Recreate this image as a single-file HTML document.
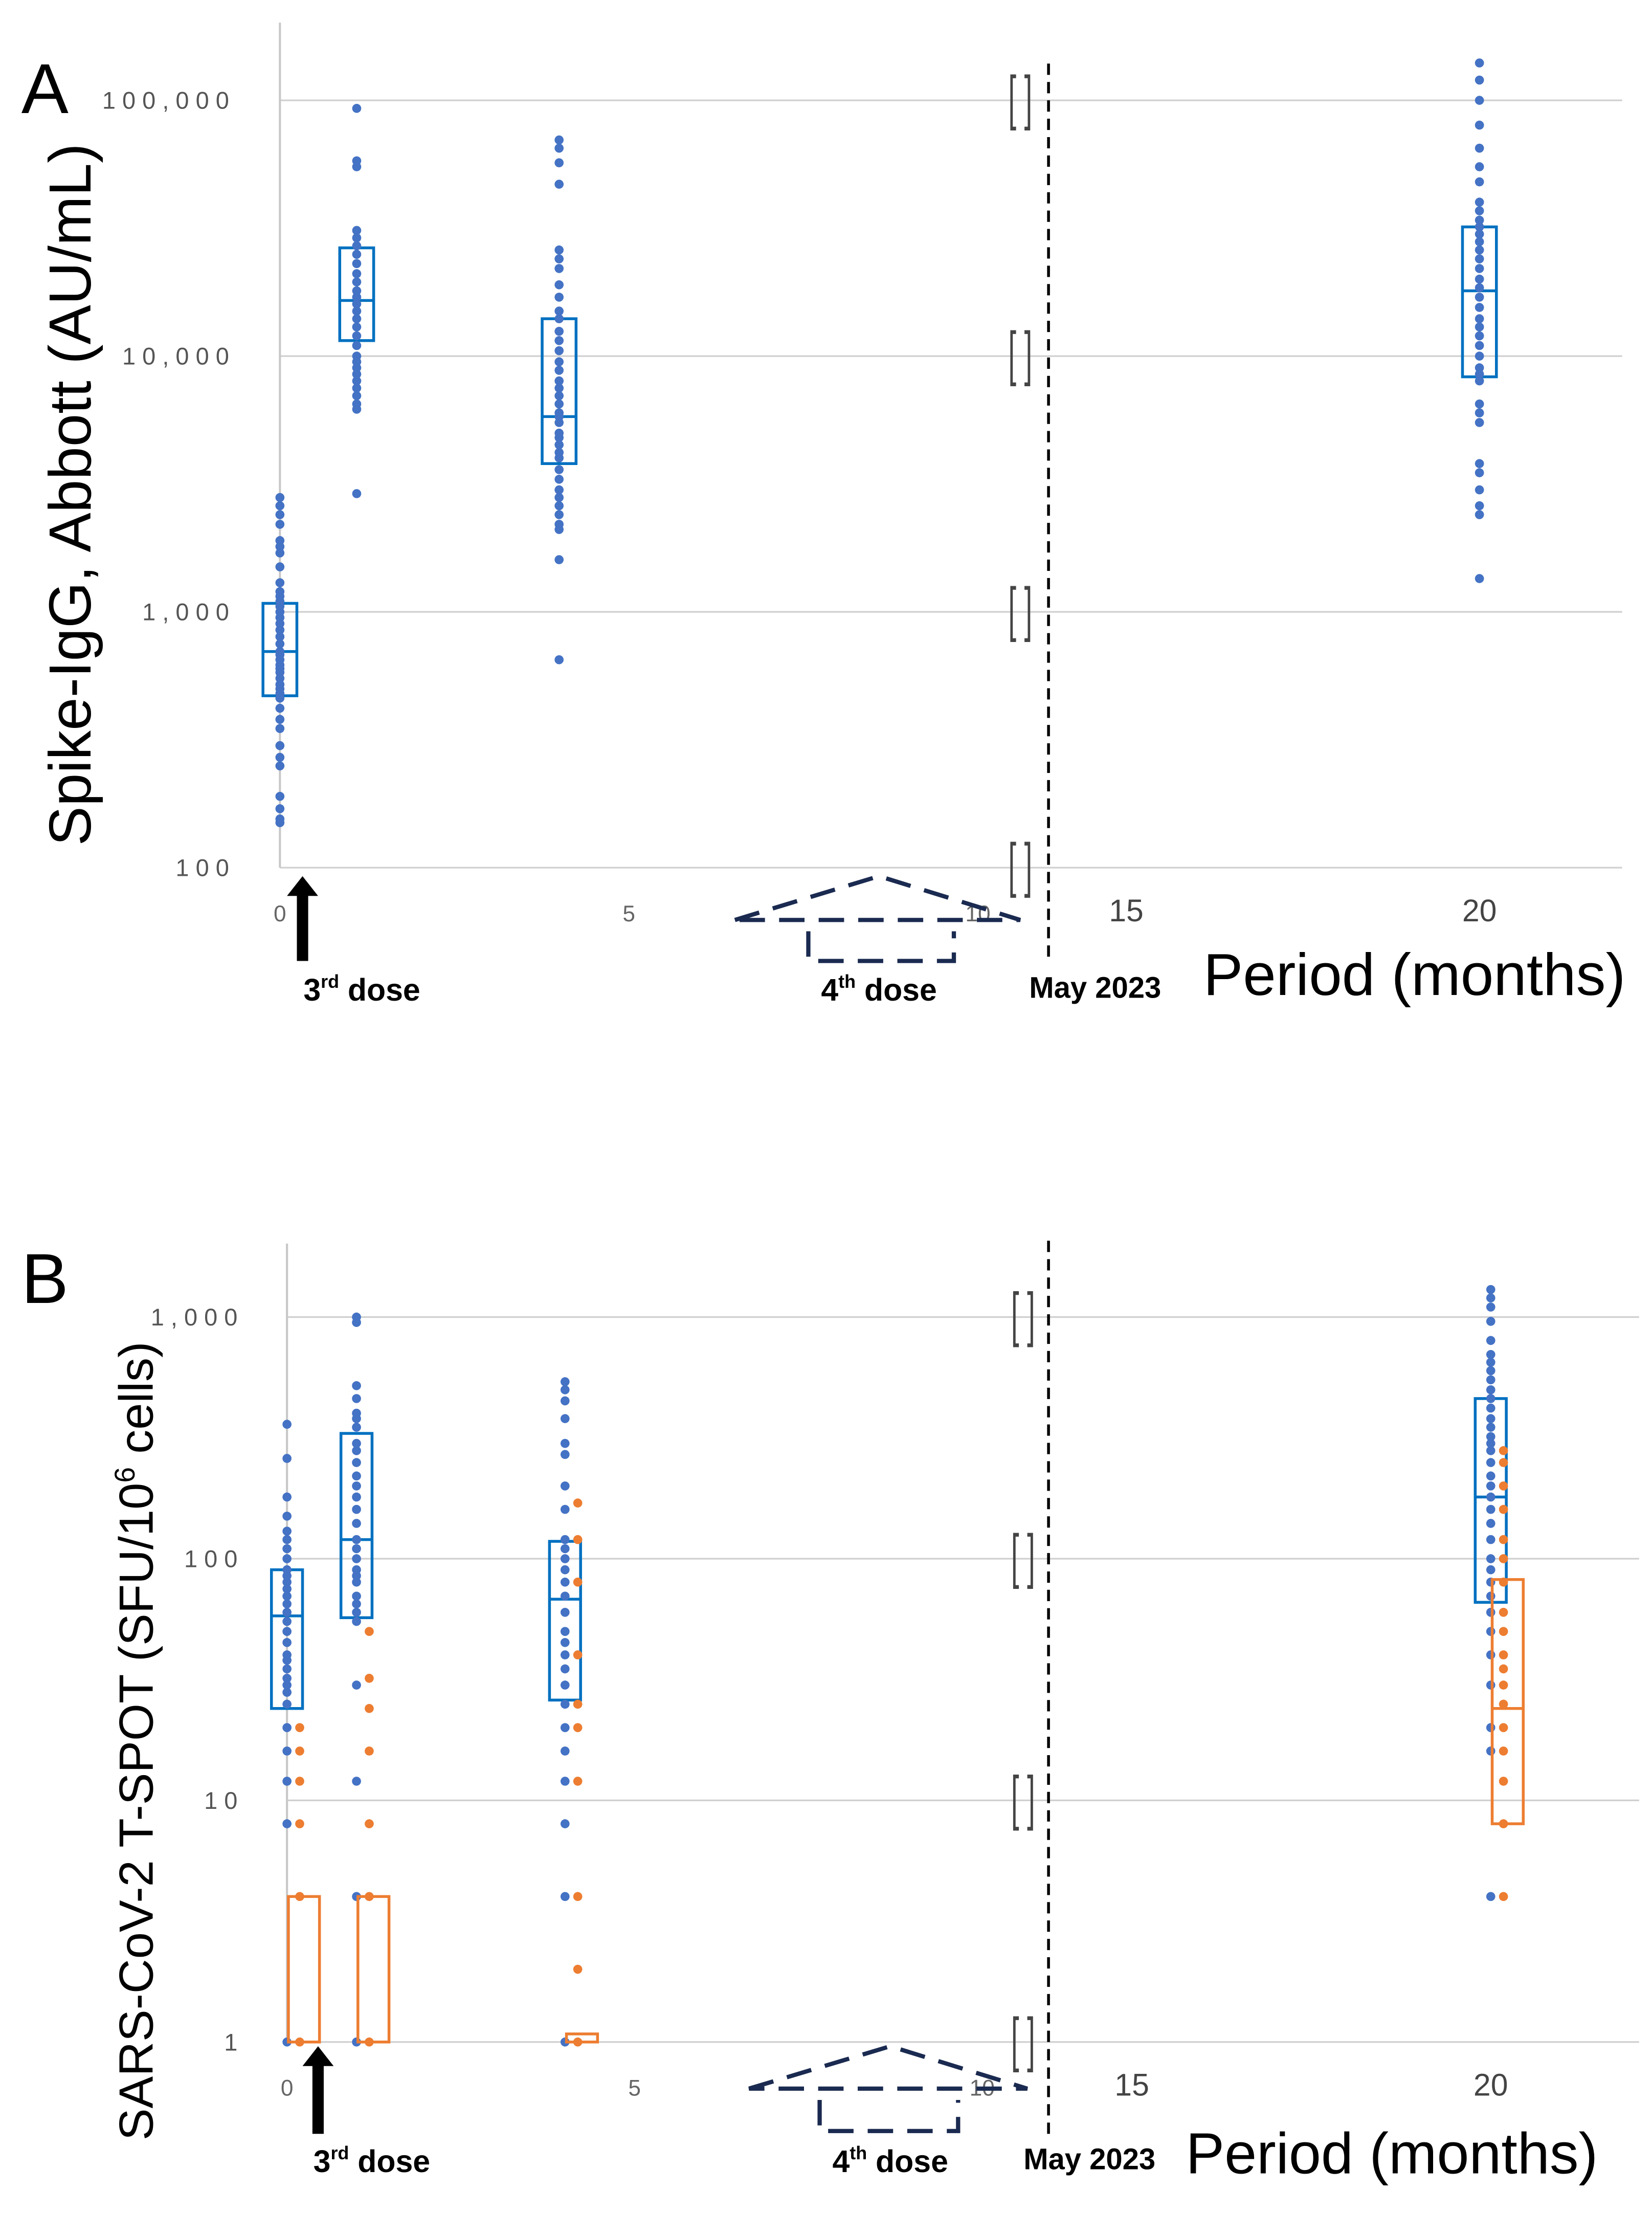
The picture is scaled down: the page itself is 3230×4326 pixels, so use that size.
<!DOCTYPE html>
<html><head><meta charset="utf-8"><style>
html,body{margin:0;padding:0;background:#fff}
svg{display:block}
text{font-family:"Liberation Sans",sans-serif}
</style></head><body>
<svg id="fig" width="3230" height="4326" viewBox="0 0 1169 1566" xmlns="http://www.w3.org/2000/svg">
<g id="gA"></g>
<g id="gB"></g>
</svg>
<script>
// Panel A data
const aGroupsMonths = [0, 1.1, 4, 20];
const aBoxLow = [470, 11500, 3800, 8300];
const aBoxMed = [700, 16500, 5800, 18000];
const aBoxHigh = [1080, 26500, 14000, 32000];
const aDots0 = [2800,2600,2400,2200,1900,1800,1700,1500,1300,1200,1150,1100,1050,1000,950,900,850,800,750,700,680,650,620,600,580,550,520,500,480,460,420,380,350,300,270,250,190,170,155,150];
const aDots1 = [93000,58000,55000,31000,29000,27000,25000,23000,21000,19500,18000,17000,16000,15000,14000,13000,12000,11000,10000,9500,9000,8500,8000,7500,7000,6500,6200,2900];
const aDots4 = [70000,65000,57000,47000,26000,24000,22000,19000,17000,15000,14000,12500,11500,10500,9500,8800,8000,7500,7000,6500,6000,5800,5500,5000,4800,4500,4200,4000,3600,3300,3000,2800,2600,2400,2200,2100,1600,650];
const aDots20 = [140000,120000,100000,80000,65000,55000,48000,40000,37000,34000,32000,30000,28000,26000,24000,22000,20000,18500,17000,15500,14000,13000,12000,11000,10000,9000,8500,8000,6500,6000,5500,3800,3500,3000,2600,2400,1350];
const aYTicks = [100, 1000, 10000, 100000];
const aYTickLabels = ["1 0 0","1 , 0 0 0","1 0 , 0 0 0","1 0 0 , 0 0 0"];
// Panel B data
const bGroupsMonths = [0, 1, 4, 20];
const bBlueLow = [24, 57, 26, 66];
const bBlueMed = [58, 120, 68, 180];
const bBlueHigh = [90, 330, 118, 460];
const bOrangeLow = [1, 1, 1, 8];
const bOrangeMed = [null, null, null, 24];
const bOrangeHigh = [4, 4, 1.08, 82];
const bBlue0 = [360,260,180,150,130,120,110,100,90,85,80,75,70,65,60,55,50,45,40,38,35,32,30,28,25,20,16,12,8,1];
const bBlue1 = [1000,950,520,460,400,380,350,300,280,250,220,200,180,160,140,120,110,100,90,85,80,70,65,60,55,30,12,4,1];
const bBlue4 = [540,500,450,380,300,270,200,160,120,110,100,90,80,70,60,50,45,40,35,30,25,20,16,12,8,4,1];
const bBlue20 = [1300,1200,1100,960,800,700,650,600,550,500,460,420,380,350,320,300,280,250,220,200,180,160,140,120,100,90,80,70,60,50,40,30,20,16,4];
const bOrange0 = [20,16,12,8,4,1];
const bOrange1 = [50,32,24,16,8,4,1];
const bOrange4 = [170,120,80,40,25,20,12,4,2,1];
const bOrange20 = [280,250,200,160,120,100,80,60,50,40,35,30,25,20,16,12,8,4];
const bYTicks = [1, 10, 100, 1000];
const bYTickLabels = ["1","1 0","1 0 0","1 , 0 0 0"];
const xTicks = [0, 5, 10, 15, 20];

const NS = "http://www.w3.org/2000/svg";
function mk(parent, tag, attrs, txt){
  const e = document.createElementNS(NS, tag);
  for (const k in attrs) e.setAttribute(k, attrs[k]);
  if (txt !== undefined) e.textContent = txt;
  parent.appendChild(e);
  return e;
}
const BLUE = "#4472C4", BOXB = "#0070C0", OR = "#ED7D31";

function build(g, cfg){
  const yS = v => cfg.y0 - (Math.log10(v) - cfg.logMin) * cfg.dec;
  const xS = m => m <= 10 ? cfg.x0 + m * cfg.pxm : cfg.x15 + (m - 15) * cfg.pxm2;
  cfg.yTicks.forEach((t, i) => {
    const l = mk(g, "line", {x1: cfg.x0, x2: cfg.xEnd, y1: yS(t), y2: yS(t), stroke: "#d0d0d0", "stroke-width": 1.2});
    
    
    const tx = mk(g, "text", {x: cfg.tickLabX, y: yS(t) + 6, "text-anchor": "end", "font-size": 17, fill: "#555"}, cfg.yTickLabels[i]);
    
    
    const br = mk(g, "text", {x: cfg.brX, y: yS(t) + 10, "text-anchor": "middle", "font-size": 34, fill: "#444", "transform-origin": cfg.brX + " " + yS(t), transform: "scale(0.6,1.25)"}, "[ ]");
    
    
  });
  const ax = mk(g, "line", {x1: cfg.x0, x2: cfg.x0, y1: cfg.yTop, y2: cfg.y0, stroke: "#c8c8c8", "stroke-width": 1.5});
  
  
  xTicks.forEach(t => {
    const big = t >= 15;
    const tx = mk(g, "text", {x: xS(t), y: cfg.y0 + 38, "text-anchor": "middle", "font-size": big ? 22 : 16, fill: big ? "#444" : "#666"}, String(t));
    
    
  });
  cfg.series.forEach(s => {
    s.months.forEach((m, i) => {
      const cx = xS(m) + s.off;
      if (s.low[i] != null) {
        const r = mk(g, "rect", {x: cx - s.bw/2 + s.boff, y: yS(s.high[i]), width: s.bw, height: yS(s.low[i]) - yS(s.high[i]), fill: "none", stroke: s.boxColor, "stroke-width": 2});
        
        
        if (s.med[i] != null) {
          const ml = mk(g, "line", {x1: cx - s.bw/2 + s.boff, x2: cx + s.bw/2 + s.boff, y1: yS(s.med[i]), y2: yS(s.med[i]), stroke: s.boxColor, "stroke-width": 2});
          
          
        }
      }
      s.dots[i].forEach(v => {
        const c = mk(g, "circle", {cx: cx, cy: yS(v), r: 3.2, fill: s.dotColor});
        
        
      });
    });
  });
}

const gA = document.getElementById("gA");
build(gA, {y0: 614, yTop: 16, logMin: 2, dec: 181, x0: 198, xEnd: 1148, pxm: 49.4, x15: 797, pxm2: 50, tickLabX: 162, brX: 722,
  yTicks: aYTicks, yTickLabels: aYTickLabels,
  series: [{name: "spike-igg", months: aGroupsMonths, off: 0, boff: 0, bw: 24, low: aBoxLow, med: aBoxMed, high: aBoxHigh, dots: [aDots0, aDots1, aDots4, aDots20], boxColor: BOXB, dotColor: BLUE}]});
const gB = document.getElementById("gB");
build(gB, {y0: 1445, yTop: 880, logMin: 0, dec: 171, x0: 203, xEnd: 1160, pxm: 49.2, x15: 801, pxm2: 50.8, tickLabX: 168, brX: 724,
  yTicks: bYTicks, yTickLabels: bYTickLabels,
  series: [
   {name: "tspot-blue", months: bGroupsMonths, off: 0, boff: 0, bw: 22, low: bBlueLow, med: bBlueMed, high: bBlueHigh, dots: [bBlue0, bBlue1, bBlue4, bBlue20], boxColor: BOXB, dotColor: BLUE},
   {name: "tspot-orange", months: bGroupsMonths, off: 9, boff: 3, bw: 22, low: bOrangeLow, med: bOrangeMed, high: bOrangeHigh, dots: [bOrange0, bOrange1, bOrange4, bOrange20], boxColor: OR, dotColor: OR}
  ]});

function annot(g, o){
  const d1 = mk(g, "line", {x1: o.vx, x2: o.vx, y1: o.vTop, y2: o.vBot, stroke: "#000", "stroke-width": 2, "stroke-dasharray": "8,5"});
  
  
  const ar = mk(g, "path", {d: `M${o.ax-4},${o.aBot} L${o.ax-4},${o.aTip+14} L${o.ax-11},${o.aTip+14} L${o.ax},${o.aTip} L${o.ax+11},${o.aTip+14} L${o.ax+4},${o.aTip+14} L${o.ax+4},${o.aBot} Z`, fill: "#000"});
  
  
  const p = mk(g, "path", {d: `M${o.px1},${o.pBase} L${o.pMid},${o.pTop} L${o.px2},${o.pBase} Z M${o.bx1},${o.pBase+8} L${o.bx1},${o.bBot} L${o.bx2},${o.bBot} L${o.bx2},${o.pBase+8}`, fill: "none", stroke: "#1a2a50", "stroke-width": 3, "stroke-dasharray": "18,10"});
  
  
  const t3 = mk(g, "text", {x: o.t3x, y: o.ty, "text-anchor": "middle", "font-size": 22, "font-weight": "bold", fill: "#000"});
  t3.innerHTML = '3<tspan font-size="13" dy="-9">rd</tspan><tspan dy="9"> dose</tspan>';
  
  
  const t4 = mk(g, "text", {x: o.pMid, y: o.ty, "text-anchor": "middle", "font-size": 22, "font-weight": "bold", fill: "#000"});
  t4.innerHTML = '4<tspan font-size="13" dy="-9">th</tspan><tspan dy="9"> dose</tspan>';
  
  
  const tm = mk(g, "text", {x: o.mx, y: o.ty - 2, "text-anchor": "middle", "font-size": 21, "font-weight": "bold", fill: "#000"}, "May 2023");
  
  
  const tp = mk(g, "text", {x: o.perX, y: o.perY, "text-anchor": "middle", "font-size": o.perS, fill: "#000"}, "Period (months)");
  
  
  const L = mk(g, "text", {x: 15, y: o.letY, "font-size": 50, fill: "#000"}, o.letter);
  
  
  const yt = mk(g, "text", {x: o.ytx, y: o.yty, "text-anchor": "middle", "font-size": o.yts, fill: "#000", transform: `rotate(-90 ${o.ytx} ${o.yty})`});
  yt.innerHTML = o.ytitle;
  
  
}
annot(gA, {vx: 742, vTop: 45, vBot: 680, ax: 214, aTip: 620, aBot: 680, px1: 520, pMid: 622, px2: 722, pTop: 620, pBase: 651, bx1: 572, bx2: 675, bBot: 680, t3x: 256, ty: 708, mx: 775, perX: 1001, perY: 704, perS: 42, letY: 80, letter: "A", ytx: 64, yty: 350, yts: 42, ytitle: "Spike-IgG, Abbott (AU/mL)"});
annot(gB, {vx: 742, vTop: 878, vBot: 1512, ax: 225, aTip: 1448, aBot: 1510, px1: 530, pMid: 630, px2: 727, pTop: 1448, pBase: 1478, bx1: 580, bx2: 678, bBot: 1508, t3x: 263, ty: 1537, mx: 771, perX: 985, perY: 1538, perS: 41, letY: 922, letter: "B", ytx: 108, yty: 1232, yts: 34, ytitle: 'SARS-CoV-2 T-SPOT (SFU/10<tspan font-size="20" dy="-13">6</tspan><tspan dy="13"> cells)</tspan>'});
</script>
</body></html>
